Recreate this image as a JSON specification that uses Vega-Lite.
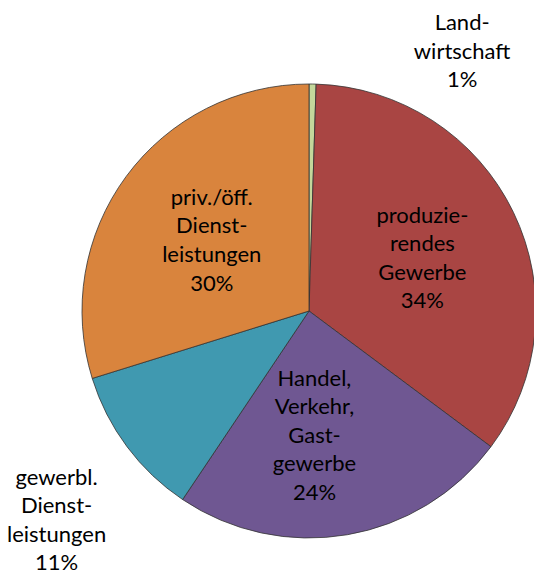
{
  "$schema": "https://vega.github.io/schema/vega-lite/v6.json",
  "width": 450,
  "height": 526,
  "autosize": {"type": "none"},
  "padding": {"left": 84, "top": 48, "right": 0, "bottom": 0},
  "background": "white",
  "config": {"view": {"stroke": null}},
  "data": {
    "values": [
      {"Sektor": "Landwirtschaft", "label": "Land-\nwirtschaft\n1%", "Anteil": 0.5, "ord": 1},
      {"Sektor": "produzierendes Gewerbe", "label": "produzie-\nrendes\nGewerbe\n34%", "Anteil": 34.7, "ord": 2},
      {"Sektor": "Handel, Verkehr, Gastgewerbe", "label": "Handel,\nVerkehr,\nGast-\ngewerbe\n24%", "Anteil": 24.2, "ord": 3},
      {"Sektor": "gewerbl. Dienstleistungen", "label": "gewerbl.\nDienst-\nleistungen\n11%", "Anteil": 10.8, "ord": 4},
      {"Sektor": "priv./öff. Dienstleistungen", "label": "priv./öff.\nDienst-\nleistungen\n30%", "Anteil": 29.8, "ord": 5}
    ]
  },
  "encoding": {
    "theta": {"field": "Anteil", "type": "quantitative", "stack": true},
    "order": {"field": "ord", "type": "quantitative"}
  },
  "layer": [
    {
      "mark": {"type": "arc", "radius": 227, "stroke": "#333333", "strokeWidth": 0.8},
      "encoding": {
        "color": {
          "field": "Sektor",
          "type": "nominal",
          "scale": {
            "domain": ["Landwirtschaft", "produzierendes Gewerbe", "Handel, Verkehr, Gastgewerbe", "gewerbl. Dienstleistungen", "priv./öff. Dienstleistungen"],
            "range": ["#c4d79b", "#a94543", "#6f5792", "#4099b0", "#d9843d"]
          },
          "legend": null
        }
      }
    },
    {
      "mark": {"type": "text", "radius": 301, "thetaOffset": 0.518, "dy": -28.6, "font": "Lato", "fontSize": 22, "lineBreak": "\n", "lineHeight": 28.6, "baseline": "middle", "align": "center", "color": "black"},
      "encoding": {"text": {"condition": {"test": "datum.Sektor === 'Landwirtschaft'", "field": "label"}, "value": ""}}
    },
    {
      "mark": {"type": "text", "radius": 125, "thetaOffset": 0.015, "dy": -42.9, "font": "Lato", "fontSize": 22, "lineBreak": "\n", "lineHeight": 28.6, "baseline": "middle", "align": "center", "color": "black"},
      "encoding": {"text": {"condition": {"test": "datum.Sektor === 'produzierendes Gewerbe'", "field": "label"}, "value": ""}}
    },
    {
      "mark": {"type": "text", "radius": 125, "thetaOffset": 0.126, "dy": -57.2, "font": "Lato", "fontSize": 22, "lineBreak": "\n", "lineHeight": 28.6, "baseline": "middle", "align": "center", "color": "black"},
      "encoding": {"text": {"condition": {"test": "datum.Sektor === 'Handel, Verkehr, Gastgewerbe'", "field": "label"}, "value": ""}}
    },
    {
      "mark": {"type": "text", "radius": 330, "thetaOffset": -0.059, "dy": -45.5, "font": "Lato", "fontSize": 22, "lineBreak": "\n", "lineHeight": 28.4, "baseline": "middle", "align": "center", "color": "black"},
      "encoding": {"text": {"condition": {"test": "datum.Sektor === 'gewerbl. Dienstleistungen'", "field": "label"}, "value": ""}}
    },
    {
      "mark": {"type": "text", "radius": 120, "thetaOffset": -0.009, "dy": -42.9, "font": "Lato", "fontSize": 22, "lineBreak": "\n", "lineHeight": 28.6, "baseline": "middle", "align": "center", "color": "black"},
      "encoding": {"text": {"condition": {"test": "datum.Sektor === 'priv./öff. Dienstleistungen'", "field": "label"}, "value": ""}}
    }
  ]
}
